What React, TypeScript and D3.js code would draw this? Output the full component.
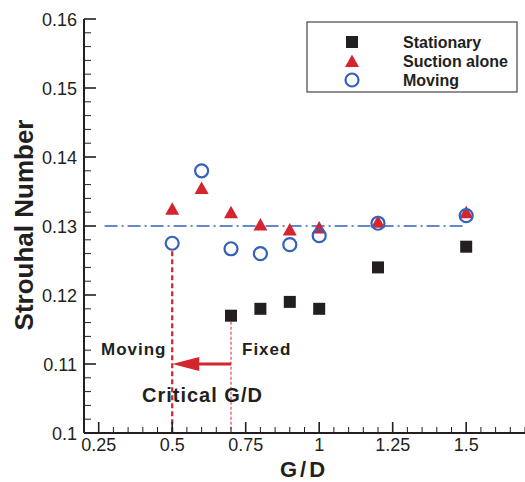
import React from "react";
import * as d3 from "d3";

// Strouhal number vs gap ratio G/D
const gapStationary = [0.7, 0.8, 0.9, 1.0, 1.2, 1.5];
const stStationary = [0.117, 0.118, 0.119, 0.118, 0.124, 0.127];

const gapSuction = [0.5, 0.6, 0.7, 0.8, 0.9, 1.0, 1.2, 1.5];
const stSuction = [0.1325, 0.1355, 0.132, 0.1302, 0.1295, 0.1298, 0.1306, 0.132];

const gapMoving = [0.5, 0.6, 0.7, 0.8, 0.9, 1.0, 1.2, 1.5];
const stMoving = [0.1275, 0.138, 0.1267, 0.126, 0.1273, 0.1286, 0.1304, 0.1315];

const xTicks = [0.25, 0.5, 0.75, 1, 1.25, 1.5];
const xTickLabels = ["0.25", "0.5", "0.75", "1", "1.25", "1.5"];
const yTicks = [0.1, 0.11, 0.12, 0.13, 0.14, 0.15, 0.16];
const yTickLabels = ["0.1", "0.11", "0.12", "0.13", "0.14", "0.15", "0.16"];

const refSt = 0.13;
const refRange = [0.27, 1.5];
const criticalMoving = 0.5;
const criticalFixed = 0.7;
const arrowSt = 0.11;

const legendItems = ["Stationary", "Suction alone", "Moving"];

const BLACK = "#231f20";
const RED = "#d4252e";
const BLUE = "#3461b9";
const FONT = "'Liberation Sans', Arial, Helvetica, sans-serif";

export default function App() {
  const x = d3.scaleLinear().domain([0.2, 1.7]).range([84, 525]);
  const y = d3.scaleLinear().domain([0.1, 0.16]).range([433, 19]);

  const x0 = x(0.2);
  const y0 = y(0.1);

  const xMinor = d3.range(0.3, 1.7001, 0.05).filter(
    (v) => !xTicks.some((t) => Math.abs(t - v) < 1e-6)
  );
  const yMinor = d3.range(0.102, 0.16, 0.002).filter(
    (v) => !yTicks.some((t) => Math.abs(t - v) < 1e-6)
  );

  const tri = (cx: number, cy: number, s = 1) =>
    `M${cx},${cy - 6.5 * s}L${cx + 7 * s},${cy + 6 * s}L${cx - 7 * s},${cy + 6 * s}Z`;

  const arrowY = y(arrowSt);
  const headTip = x(criticalMoving);
  const headBase = headTip + 27;

  const legX = 307;
  const legY = 22;
  const legRows = [42, 61, 80];

  return (
    <div style={{ position: "absolute", left: 0, top: 0 }}>
      <svg width={525} height={482} style={{ display: "block", fontFamily: FONT }}>
        <rect x={0} y={0} width={525} height={482} fill="#fff" />

        {/* reference Strouhal line */}
        <line
          x1={x(refRange[0])}
          x2={x(refRange[1])}
          y1={y(refSt)}
          y2={y(refSt)}
          stroke={BLUE}
          strokeWidth={1.3}
          strokeDasharray="13,4,2,4"
        />

        {/* critical gap markers */}
        <line
          x1={x(criticalMoving)}
          x2={x(criticalMoving)}
          y1={y(stMoving[0]) + 8}
          y2={y0}
          stroke={RED}
          strokeWidth={2.2}
          strokeDasharray="5,3"
        />
        <line
          x1={x(criticalFixed)}
          x2={x(criticalFixed)}
          y1={y(stStationary[0]) + 6}
          y2={y0}
          stroke={RED}
          strokeWidth={1}
          strokeDasharray="3,2"
        />
        <line
          x1={x(criticalFixed)}
          x2={headBase - 2}
          y1={arrowY}
          y2={arrowY}
          stroke={RED}
          strokeWidth={3}
        />
        <path
          d={`M${headTip},${arrowY}L${headBase},${arrowY - 7}L${headBase},${arrowY + 7}Z`}
          fill={RED}
        />

        {/* annotation text */}
        <text x={101} y={355} fontSize={17} fontWeight="bold" letterSpacing={1} fill={BLACK}>
          Moving
        </text>
        <text x={242} y={355} fontSize={17} fontWeight="bold" letterSpacing={1} fill={BLACK}>
          Fixed
        </text>
        <text x={142} y={402} fontSize={20} fontWeight="bold" letterSpacing={1} fill={BLACK}>
          Critical G/D
        </text>

        {/* axes */}
        <line x1={x0} x2={525} y1={y0} y2={y0} stroke={BLACK} strokeWidth={2} />
        <line x1={x0} x2={x0} y1={y0} y2={y(0.16)} stroke={BLACK} strokeWidth={2} />
        {xTicks.map((t) => (
          <line key={"xt" + t} x1={x(t)} x2={x(t)} y1={y0} y2={y0 - 11} stroke={BLACK} strokeWidth={1.6} />
        ))}
        {xMinor.map((t) => (
          <line key={"xm" + t} x1={x(t)} x2={x(t)} y1={y0} y2={y0 - 6} stroke={BLACK} strokeWidth={1} />
        ))}
        {yTicks.map((t) => (
          <line key={"yt" + t} x1={x0} x2={x0 + 12} y1={y(t)} y2={y(t)} stroke={BLACK} strokeWidth={1.6} />
        ))}
        {yMinor.map((t) => (
          <line key={"ym" + t} x1={x0} x2={x0 + 7} y1={y(t)} y2={y(t)} stroke={BLACK} strokeWidth={1} />
        ))}
        {xTicks.map((t, i) => (
          <text key={"xl" + t} x={x(t)} y={451} fontSize={18} textAnchor="middle" fill={BLACK}>
            {xTickLabels[i]}
          </text>
        ))}
        {yTicks.map((t, i) => (
          <text key={"yl" + t} x={77} y={y(t) + 6.5} fontSize={18} textAnchor="end" fill={BLACK}>
            {yTickLabels[i]}
          </text>
        ))}
        <text x={304} y={477} fontSize={22} fontWeight="bold" letterSpacing={3} textAnchor="middle" fill={BLACK}>
          G/D
        </text>
        <text
          transform={`translate(33,225) rotate(-90)`}
          fontSize={26}
          fontWeight="bold"
          textAnchor="middle"
          fill={BLACK}
        >
          Strouhal Number
        </text>

        {/* data */}
        {gapStationary.map((g, i) => (
          <rect key={"s" + i} x={x(g) - 6} y={y(stStationary[i]) - 6} width={12} height={12} fill={BLACK} />
        ))}
        {gapSuction.map((g, i) => (
          <path key={"t" + i} d={tri(x(g), y(stSuction[i]))} fill={RED} />
        ))}
        {gapMoving.map((g, i) => (
          <circle key={"c" + i} cx={x(g)} cy={y(stMoving[i])} r={6.5} fill="none" stroke={BLUE} strokeWidth={2.2} />
        ))}

        {/* legend */}
        <rect x={legX} y={legY} width={210} height={70} fill="#fff" stroke={BLACK} strokeWidth={1} />
        <rect x={352 - 6} y={legRows[0] - 6} width={12} height={12} fill={BLACK} />
        <path d={tri(352, legRows[1])} fill={RED} />
        <circle cx={352} cy={legRows[2]} r={6.5} fill="none" stroke={BLUE} strokeWidth={2.2} />
        {legendItems.map((name, i) => (
          <text key={name} x={403} y={legRows[i] + 5.5} fontSize={16} fontWeight="bold" fill={BLACK}>
            {name}
          </text>
        ))}
      </svg>
    </div>
  );
}
